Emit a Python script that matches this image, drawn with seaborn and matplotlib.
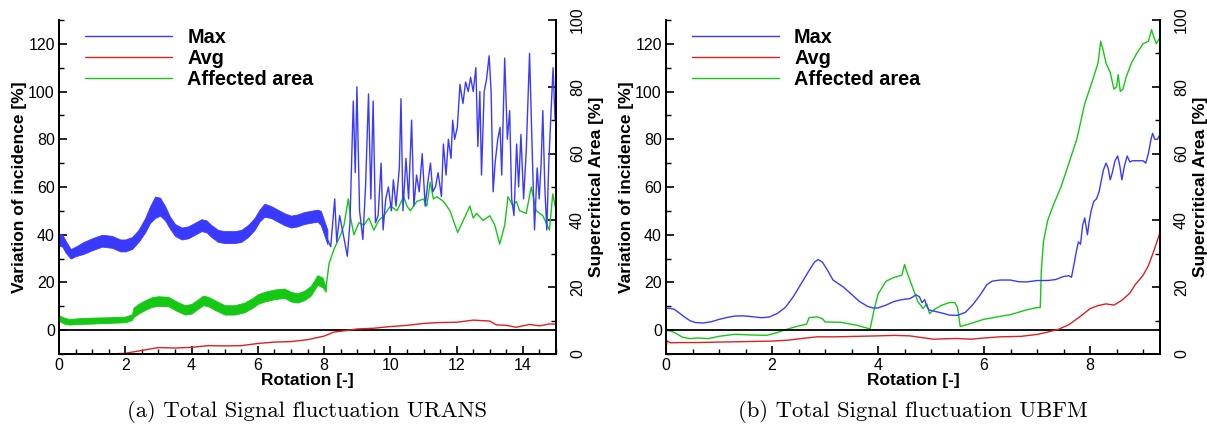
import numpy as np
import pandas as pd
import matplotlib
matplotlib.use("Agg")
import matplotlib.pyplot as plt
from matplotlib.lines import Line2D
from matplotlib.ticker import MultipleLocator
import seaborn as sns

# ---------------- URANS ----------------
# Max incidence variation: dense oscillating band up to rotation ~8 (lower/upper envelope)
urans_max_band_x = [0, 0.1, 0.2, 0.35, 0.5, 0.75, 1.0, 1.3, 1.6, 1.85, 2.0, 2.2, 2.4, 2.6,
                    2.75, 2.9, 3.05, 3.2, 3.35, 3.5, 3.7, 3.9, 4.1, 4.3, 4.45, 4.6, 4.8,
                    5.0, 5.3, 5.5, 5.7, 5.9, 6.05, 6.2, 6.4, 6.6, 6.8, 7.0, 7.2, 7.4, 7.6,
                    7.8, 7.9, 8.0, 8.1]
urans_max_band_lo = [35.5, 35, 32.5, 30, 31, 32, 33.5, 35, 34.5, 33, 33, 34, 37, 41,
                     45, 47, 48, 46, 42.5, 39.5, 38, 38.5, 40, 41.5, 41, 39, 37,
                     36.5, 36.5, 37, 39, 42, 45.5, 47.5, 47, 45.5, 44, 43, 43.5, 44.5, 45,
                     45.5, 44, 40, 36]
urans_max_band_hi = [40.5, 40, 37.5, 34, 35, 37, 38.5, 40, 39.5, 38, 38, 39, 42, 47,
                     52, 56, 55.5, 52, 47.5, 44.5, 43, 43.5, 45, 46.5, 46, 44, 42,
                     41.5, 41.5, 42, 44, 47, 50.5, 53, 52, 50.5, 49, 48, 48.5, 49.5, 50,
                     50.5, 50, 46, 42]
# Max incidence variation: spiky signal after rotation ~8
urans_max_x = [8.1, 8.2, 8.32, 8.38, 8.47, 8.58, 8.7, 8.78, 8.88, 8.94, 8.99, 9.07, 9.17,
               9.25, 9.34, 9.41, 9.48, 9.55, 9.63, 9.72, 9.78, 9.86, 9.94, 10.03, 10.09,
               10.17, 10.27, 10.32, 10.38, 10.47, 10.55, 10.64, 10.71, 10.79, 10.87, 10.96,
               11.05, 11.13, 11.21, 11.28, 11.36, 11.44, 11.54, 11.6, 11.68, 11.75, 11.83,
               11.88, 11.94, 12.02, 12.1, 12.19, 12.27, 12.35, 12.42, 12.5, 12.58, 12.64,
               12.7, 12.75, 12.83, 12.9, 12.98, 13.04, 13.1, 13.16, 13.24, 13.31, 13.36,
               13.45, 13.53, 13.6, 13.66, 13.73, 13.81, 13.87, 13.94, 14.02, 14.1, 14.2,
               14.28, 14.35, 14.43, 14.49, 14.55, 14.6, 14.66, 14.72, 14.78, 14.86, 14.91,
               14.97]
urans_max_y = [38, 35, 55, 37, 48, 40, 31, 45, 96, 66, 102, 50, 38,
               60, 99, 55, 96, 45, 48, 70, 42, 55, 60, 50, 63,
               52, 68, 97, 50, 72, 55, 88, 52, 65, 58, 74,
               52, 62, 70, 58, 60, 66, 56, 78, 65, 80, 72,
               88, 80, 85, 103, 95, 104, 100, 106, 100, 110, 77,
               100, 65, 100, 105, 115, 100, 58, 70, 80, 85, 65,
               114, 80, 92, 55, 48, 78, 60, 82, 55, 75, 116,
               75, 42, 68, 55, 70, 92, 60, 42, 70, 95, 110,
               88]

# Average incidence variation
urans_avg_x = [0, 0.7, 1.5, 2.0, 2.5, 3.0, 3.5, 4.0, 4.5, 5.0, 5.5, 6.0, 6.5, 7.0, 7.5,
               8.0, 8.3, 8.6, 9.0, 9.5, 10.0, 10.5, 11.0, 11.5, 12.0, 12.5, 13.0, 13.2,
               13.5, 13.8, 14.2, 14.5, 14.8, 15.0]
urans_avg_y = [-11, -10, -10, -9.7, -8.5, -7.3, -7.5, -7.2, -6.5, -6.6, -6.5, -5.6, -5.0,
               -4.8, -4.0, -2.5, -0.8, -0.3, 0.5, 0.8, 1.5, 2.0, 2.8, 3.2, 3.3, 4.2, 3.8,
               2.2, 2.0, 1.2, 2.4, 1.8, 2.6, 2.5]

# Supercritical (affected) area [%]: oscillating band up to rotation ~8
urans_area_band_x = [0, 0.15, 0.3, 0.6, 1.0, 1.5, 2.0, 2.2, 2.25, 2.4, 2.6, 2.8, 3.0, 3.3,
                     3.55, 3.8, 4.0, 4.2, 4.35, 4.5, 4.7, 5.0, 5.3, 5.6, 5.85, 6.0, 6.2,
                     6.5, 6.8, 7.0, 7.2, 7.4, 7.6, 7.8, 7.95, 8.05]
urans_area_band_lo = [9.9, 9.1, 8.8, 9.0, 9.1, 9.3, 9.5, 10.2, 11.1, 12.1, 13.2, 14.1, 14.4,
                      14.3, 12.9, 11.8, 12.1, 13.6, 14.6, 14.3, 13.2, 11.8, 11.8, 12.5, 13.9,
                      15.0, 15.7, 16.4, 16.8, 15.7, 15.4, 16.1, 17.5, 20.7, 20.0, 18.6]
urans_area_band_hi = [11.6, 10.9, 10.5, 10.7, 10.9, 11.0, 11.2, 11.9, 13.9, 15.0, 16.1, 17.0,
                      17.3, 17.1, 15.7, 14.6, 15.0, 16.4, 17.5, 17.1, 16.1, 14.6, 14.6, 15.4,
                      16.8, 17.9, 18.6, 19.3, 19.6, 18.6, 18.2, 18.9, 20.4, 23.6, 22.9, 20.0]
# Supercritical (affected) area [%] after rotation ~8
urans_area_x = [8.05, 8.15, 8.3, 8.5, 8.6, 8.73, 8.8, 8.9, 9.05, 9.2, 9.35, 9.5, 9.65, 9.8,
                10.0, 10.2, 10.4, 10.5, 10.6, 10.8, 11.0, 11.1, 11.2, 11.3, 11.4, 11.6,
                11.8, 11.9, 12.03, 12.2, 12.4, 12.5, 12.6, 12.8, 13.0, 13.15, 13.3, 13.45,
                13.55, 13.7, 13.8, 13.9, 14.1, 14.25, 14.4, 14.6, 14.8, 14.9, 15.0]
urans_area_y = [19.3, 27.1, 31.4, 35.7, 38.6, 46.4, 40.7, 35.7, 39.3, 38.6, 40.7, 37.1, 40.0,
                41.4, 44.3, 42.9, 47.1, 44.3, 42.9, 45.7, 46.4, 44.3, 51.4, 46.4, 47.1, 45.7,
                42.9, 40.0, 36.4, 40.0, 44.3, 40.7, 42.1, 40.0, 41.4, 38.6, 32.9, 38.6,
                47.1, 44.3, 45.7, 42.9, 42.1, 50.0, 42.9, 41.4, 37.1, 47.9, 42.9]

# ---------------- UBFM ----------------
ubfm_max_x = [0, 0.05, 0.15, 0.25, 0.35, 0.45, 0.55, 0.7, 0.85, 1.0, 1.15, 1.3, 1.45, 1.6,
              1.8, 1.95, 2.1, 2.25, 2.4, 2.55, 2.7, 2.8, 2.87, 2.95, 3.05, 3.15, 3.25, 3.35,
              3.5, 3.65, 3.8, 3.9, 4.0, 4.15, 4.3, 4.45, 4.6, 4.72, 4.78, 4.83, 4.88, 4.92,
              4.96, 5.05, 5.2, 5.35, 5.5, 5.65, 5.8, 5.95, 6.05, 6.15, 6.3, 6.5, 6.65, 6.8,
              7.0, 7.2, 7.35, 7.5, 7.6, 7.65, 7.7, 7.75, 7.78, 7.82, 7.86, 7.9, 7.95, 7.98,
              8.02, 8.07, 8.12, 8.17, 8.25, 8.3, 8.34, 8.38, 8.42, 8.47, 8.52, 8.56, 8.6,
              8.65, 8.7, 8.75, 8.8, 8.9, 9.0, 9.05, 9.1, 9.15, 9.18, 9.22, 9.27, 9.32]
ubfm_max_y = [9, 9.2, 8.8, 7.2, 5.5, 4, 3.2, 3, 3.5, 4.5, 5.3, 5.9, 6, 5.7,
              5.2, 5.5, 7, 9.5, 14, 19.5, 25, 28.5, 29.6, 28.5, 25, 21, 19.5, 18,
              15, 12, 10, 9.3, 9.3, 10.5, 12, 12.8, 13.2, 14.8, 14, 11.5, 12.8, 10,
              8.5, 8, 7.2, 6.3, 6.2, 7.5, 11, 15.5, 19, 20.5, 21, 21, 20.3, 20.2,
              20.8, 20.8, 21.2, 22.5, 22.8, 22.2, 28, 34, 37, 36, 44, 47, 40, 45,
              50, 54, 55, 58, 67, 70, 68, 63, 66, 71, 73, 69, 63,
              69, 73, 70.5, 71, 71, 71, 70, 74, 80, 82.5, 80, 80, 82]

ubfm_avg_x = [0, 0.02, 0.08, 0.3, 0.6, 1.0, 1.5, 2.0, 2.3, 2.6, 2.85, 3.2, 3.6, 4.0, 4.3,
              4.6, 4.85, 5.05, 5.3, 5.5, 5.75, 6.0, 6.3, 6.7, 7.0, 7.2, 7.4, 7.6, 7.8, 8.0,
              8.15, 8.3, 8.45, 8.6, 8.75, 8.85, 9.0, 9.1, 9.2, 9.32]
ubfm_avg_y = [-7.5, -4.5, -5.3, -5.2, -5.2, -5.0, -4.8, -4.6, -4.2, -3.4, -2.8, -2.8, -2.6,
              -2.4, -2.2, -2.4, -3.2, -3.8, -3.6, -3.5, -3.8, -3.3, -2.8, -2.6, -1.8, -0.8,
              0.3, 2.3, 5.5, 9, 10.3, 11, 10.5, 12.5, 15.5, 19, 23, 27, 33, 41]

ubfm_area_x = [0, 0.1, 0.2, 0.3, 0.45, 0.6, 0.8, 1.0, 1.3, 1.6, 1.9, 2.05, 2.3, 2.5, 2.65,
               2.7, 2.85, 2.95, 3.0, 3.3, 3.6, 3.85, 3.92, 4.0, 4.15, 4.3, 4.45, 4.5, 4.55,
               4.65, 4.75, 4.85, 4.92, 4.97, 5.05, 5.2, 5.35, 5.45, 5.5, 5.55, 5.7, 6.0,
               6.5, 6.8, 7.0, 7.06, 7.08, 7.12, 7.2, 7.3, 7.45, 7.6, 7.75, 7.9, 8.05, 8.15,
               8.2, 8.25, 8.3, 8.38, 8.45, 8.5, 8.53, 8.57, 8.62, 8.68, 8.78, 8.88, 9.0,
               9.1, 9.16, 9.2, 9.25, 9.3]
ubfm_area_y = [7.1, 6.8, 6.1, 5.1, 4.6, 4.8, 4.6, 5.3, 5.9, 5.7, 5.6, 6.2, 7.5, 8.4, 8.9,
               10.9, 11.1, 10.6, 9.6, 9.5, 8.6, 7.5, 12.9, 17.9, 21.8, 22.9, 23.6, 26.8, 24.3,
               20.0, 15.7, 13.6, 15.0, 12.1, 13.2, 14.6, 15.4, 15.4, 13.9, 8.2, 8.9, 10.4,
               11.8, 13.2, 13.9, 13.9, 25.0, 33.6, 40.0, 44.3, 50.0, 57.1, 64.3, 75.0, 82.1, 87.1,
               93.6, 90.7, 87.1, 84.3, 79.3, 80.0, 83.6, 78.6, 79.3, 82.9, 87.1, 90.0, 92.9,
               93.6, 97.1, 95.0, 92.9, 94.3]

# ---------------- styling ----------------
sns.set_theme(style="ticks")
plt.rcParams["font.family"] = ["Liberation Sans", "DejaVu Sans"]
plt.rcParams["axes.linewidth"] = 1.3
plt.rcParams["text.color"] = "black"
plt.rcParams["axes.labelcolor"] = "black"
plt.rcParams["xtick.color"] = "black"
plt.rcParams["ytick.color"] = "black"

C_MAX = "#3a3aff"
C_AVG = "#dd2020"
C_AREA = "#14c814"
LW = 1.0
LABEL_FS = 12.5


def style_axes(ax, ax2, xmax, xmajor):
    ax.set_xlim(0, xmax)
    ax.set_ylim(-10, 130)
    ax2.set_ylim(0, 100)
    for a in (ax, ax2):
        a.spines["top"].set_visible(False)
        for s in ("left", "right", "bottom"):
            a.spines[s].set_color("black")
            a.spines[s].set_linewidth(1.3)
    ax.xaxis.set_major_locator(MultipleLocator(xmajor))
    ax.xaxis.set_minor_locator(MultipleLocator(0.5))
    ax.yaxis.set_major_locator(MultipleLocator(20))
    ax.yaxis.set_minor_locator(MultipleLocator(10))
    ax2.yaxis.set_major_locator(MultipleLocator(20))
    ax2.yaxis.set_minor_locator(MultipleLocator(10))
    ax.tick_params(axis="both", which="major", direction="in", length=6, width=1.2,
                   labelsize=11.5, colors="black", pad=3)
    ax.tick_params(axis="both", which="minor", direction="in", length=3.5, width=1.0,
                   colors="black")
    ax.tick_params(axis="x", which="both", top=False)
    ax.tick_params(axis="y", which="both", right=False)
    ax2.tick_params(axis="y", which="major", direction="in", length=6, width=1.2,
                    labelsize=11.5, colors="black", pad=10)
    ax2.tick_params(axis="y", which="minor", direction="in", length=3.5, width=1.0,
                    colors="black")
    for lab in ax2.get_yticklabels():
        lab.set_rotation(90)
        lab.set_va("center")
        lab.set_ha("left")
    ax.set_xlabel("Rotation [-]", fontsize=LABEL_FS, fontweight="bold", labelpad=0)
    ax.set_ylabel("Variation of incidence [%]", fontsize=LABEL_FS, fontweight="bold",
                  labelpad=1)
    ax2.set_ylabel("Supercritical Area [%]", fontsize=LABEL_FS, fontweight="bold",
                   rotation=90, labelpad=3)
    ax.axhline(0, color="black", lw=1.3, zorder=1)
    handles = [Line2D([], [], color=C_MAX, lw=LW), Line2D([], [], color=C_AVG, lw=LW),
               Line2D([], [], color=C_AREA, lw=LW)]
    leg = ax.legend(handles, ["Max", "Avg", "Affected area"], loc="upper left",
                    bbox_to_anchor=(0.016, 1.03), frameon=False, handlelength=4.4,
                    handletextpad=0.75, labelspacing=0.1,
                    prop={"weight": "bold", "size": 14.3})
    return leg


fig = plt.figure(figsize=(12.07, 4.43), dpi=100)
axL = fig.add_axes([0.0489, 0.2009, 0.4118, 0.7540])
axL2 = axL.twinx()
axR = fig.add_axes([0.5518, 0.2009, 0.4093, 0.7540])
axR2 = axR.twinx()

# URANS panel
axL2.fill_between(urans_area_band_x, urans_area_band_lo, urans_area_band_hi,
                  color=C_AREA, lw=0.6, edgecolor=C_AREA)
sns.lineplot(x=urans_area_x, y=urans_area_y, ax=axL2, color=C_AREA, lw=LW,
             estimator=None, sort=False)
axL.fill_between(urans_max_band_x, urans_max_band_lo, urans_max_band_hi,
                 color=C_MAX, lw=0.6, edgecolor=C_MAX, zorder=2)
sns.lineplot(x=urans_max_x, y=urans_max_y, ax=axL, color=C_MAX, lw=LW,
             estimator=None, sort=False, zorder=2)
sns.lineplot(x=urans_avg_x, y=urans_avg_y, ax=axL, color=C_AVG, lw=LW,
             estimator=None, sort=False, zorder=2)
style_axes(axL, axL2, 15, 2)

# UBFM panel
sns.lineplot(x=ubfm_area_x, y=ubfm_area_y, ax=axR2, color=C_AREA, lw=LW,
             estimator=None, sort=False)
sns.lineplot(x=ubfm_max_x, y=ubfm_max_y, ax=axR, color=C_MAX, lw=LW,
             estimator=None, sort=False, zorder=2)
sns.lineplot(x=ubfm_avg_x, y=ubfm_avg_y, ax=axR, color=C_AVG, lw=LW,
             estimator=None, sort=False, zorder=2)
style_axes(axR, axR2, 9.32, 2)

# the green curve lives on the twin axis but is drawn beneath the others
for a in (axL2, axR2):
    a.set_zorder(0)
for a in (axL, axR):
    a.set_zorder(1)
    a.patch.set_visible(False)

fig.text(0.2545, 0.072, "(a) Total Signal fluctuation URANS", family="cmr10",
         fontsize=16.3, ha="center", va="center")
fig.text(0.7565, 0.072, "(b) Total Signal fluctuation UBFM", family="cmr10",
         fontsize=16.3, ha="center", va="center")

fig.savefig("out.png", dpi=100)
